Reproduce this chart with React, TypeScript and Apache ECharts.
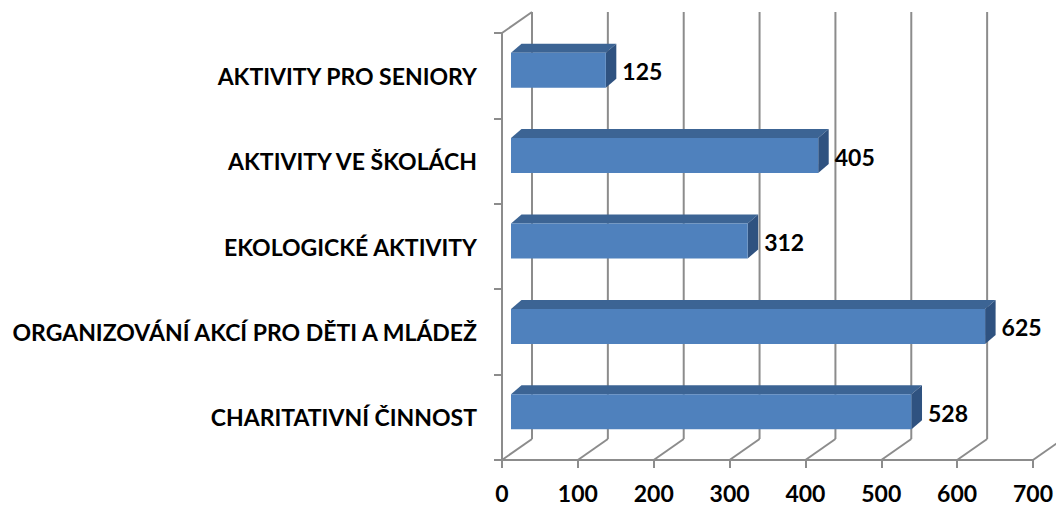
import React, { useEffect, useRef } from "react";
import * as echarts from "echarts";

const categories = [
  "CHARITATIVNÍ ČINNOST",
  "ORGANIZOVÁNÍ AKCÍ PRO DĚTI A MLÁDEŽ",
  "EKOLOGICKÉ AKTIVITY",
  "AKTIVITY VE ŠKOLÁCH",
  "AKTIVITY PRO SENIORY",
];
const values = [528, 625, 312, 405, 125];
const xTicks = [0, 100, 200, 300, 400, 500, 600, 700];

const GRAY = "#8c8c8c";
const FONT = "Lato";
const FS = 23;
const WALL_DX = 30;
const WALL_DY = -21;
const BAR_OX = 9;
const BAR_OY = -5.5;
const BAR_DX = 10.5;
const BAR_DY = -9;

export default function App() {
  const ref = useRef<HTMLDivElement>(null);
  useEffect(() => {
    if (!ref.current) return;
    const chart = echarts.init(ref.current, null, { renderer: "svg" });
    chart.setOption({
      animation: false,
      backgroundColor: "#ffffff",
      grid: { left: 502, top: 33, right: 22, bottom: 46, containLabel: false },
      xAxis: {
        type: "value",
        min: 0,
        max: 700,
        interval: 100,
        splitLine: { show: false },
        axisLine: { show: true, lineStyle: { color: GRAY, width: 2 } },
        axisTick: { show: true, length: 8, lineStyle: { color: GRAY, width: 2 } },
        axisLabel: {
          margin: 21,
          color: "#000",
          fontFamily: FONT,
          fontWeight: "bold",
          fontSize: FS,
        },
      },
      yAxis: {
        type: "category",
        data: categories,
        axisLine: { show: true, lineStyle: { color: GRAY, width: 2 } },
        axisTick: { show: true, length: 8, lineStyle: { color: GRAY, width: 2 } },
        axisLabel: {
          margin: 25,
          color: "#000",
          fontFamily: FONT,
          fontWeight: "bold",
          fontSize: FS,
        },
        splitLine: { show: false },
      },
      series: [
        {
          type: "custom",
          z: 1,
          silent: true,
          clip: false,
          data: xTicks.map((t) => [t, 0]),
          renderItem: (params: any, api: any) => {
            const cs = params.coordSys;
            const v = api.value(0);
            const x = api.coord([v, 0])[0];
            const yb = cs.y + cs.height;
            const yt = cs.y;
            const style = { stroke: GRAY, lineWidth: 2 };
            const children: any[] = [
              { type: "line", shape: { x1: x, y1: yb, x2: x + WALL_DX, y2: yb + WALL_DY }, style },
              { type: "line", shape: { x1: x + WALL_DX, y1: yb + WALL_DY, x2: x + WALL_DX, y2: yt + WALL_DY }, style },
            ];
            if (v === 0) {
              children.push({ type: "line", shape: { x1: x, y1: yt, x2: x + WALL_DX, y2: yt + WALL_DY }, style });
            }
            return { type: "group", children };
          },
        },
        {
          type: "custom",
          z: 3,
          clip: false,
          data: values.map((v, i) => [v, i]),
          renderItem: (params: any, api: any) => {
            const v = api.value(0);
            const idx = api.value(1);
            const p = api.coord([v, idx]);
            const x0 = api.coord([0, idx])[0] + BAR_OX;
            const x1 = p[0] + BAR_OX;
            const yc = p[1] + BAR_OY;
            const band = api.size([0, 1])[1];
            const h = band * 0.41;
            const yt = yc - h / 2;
            const yb = yc + h / 2;
            return {
              type: "group",
              children: [
                {
                  type: "polygon",
                  shape: { points: [[x0, yt], [x1, yt], [x1 + BAR_DX, yt + BAR_DY], [x0 + BAR_DX, yt + BAR_DY]] },
                  style: { fill: "#3c6494" },
                },
                {
                  type: "polygon",
                  shape: { points: [[x1, yt], [x1 + BAR_DX, yt + BAR_DY], [x1 + BAR_DX, yb + BAR_DY], [x1, yb]] },
                  style: { fill: "#2f5280" },
                },
                {
                  type: "rect",
                  shape: { x: x0, y: yt, width: x1 - x0, height: h },
                  style: { fill: "#4f81bd" },
                },
                {
                  type: "text",
                  x: x1 + BAR_DX + 6,
                  y: yc + 1,
                  style: {
                    text: String(v),
                    fill: "#000",
                    font: `bold ${FS}px ${FONT}`,
                    align: "left",
                    verticalAlign: "middle",
                  },
                },
              ],
            };
          },
        },
      ],
    });
    return () => chart.dispose();
  }, []);
  return (
    <div
      ref={ref}
      style={{ position: "fixed", left: 0, top: 0, width: 1056, height: 506, background: "#fff" }}
    />
  );
}
